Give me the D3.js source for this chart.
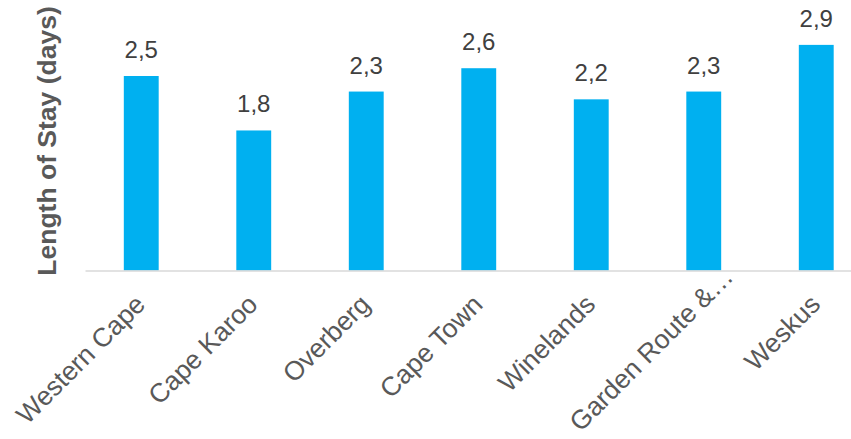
<!DOCTYPE html>
<html lang="en">
<head>
    <meta charset="UTF-8">
    <script src="https://cdn.jsdelivr.net/npm/d3@7/dist/d3.min.js"></script>
    <title>Length of Stay</title>
    <style>
        body { margin: 0; background: #fff; }
        svg { display: block; font-family: Arial, 'Liberation Sans', sans-serif; }
    </style>
</head>
<body>
    <svg id="mainsvg" width="851" height="439"></svg>
    <script>
        const regions = ['Western Cape', 'Cape Karoo', 'Overberg', 'Cape Town', 'Winelands', 'Garden Route &…', 'Weskus']
        const stay = [2.5, 1.8, 2.3, 2.6, 2.2, 2.3, 2.9]
        const yTitle = 'Length of Stay (days)'

        const data = regions.map((r, i) => ({ name: r, value: stay[i] }))

        const svg = d3.select('#mainsvg')
        const baseY = 270.5

        const xScale = d3.scaleBand()
            .domain(regions)
            .range([85, 872.5])
            .paddingInner(0.69)
            .paddingOuter(0.345)

        const yScale = d3.scaleLinear()
            .domain([0, 3.5])
            .range([baseY, baseY - 3.5 * 77.8])

        // bars
        svg.selectAll('rect.bar').data(data).join('rect')
            .attr('class', 'bar')
            .attr('x', d => xScale(d.name))
            .attr('width', xScale.bandwidth())
            .attr('y', d => yScale(d.value))
            .attr('height', d => yScale(0) - yScale(d.value))
            .attr('fill', '#00B0F0')

        // axis
        const xAxis = d3.axisBottom(xScale).tickSize(0).tickPadding(0)
        const ax = svg.append('g')
            .attr('transform', `translate(0,${baseY})`)
            .call(xAxis)
        ax.select('.domain').attr('stroke', '#d9d9d9').attr('stroke-width', 1.5)
        // the truncated label sits further up its diagonal, like in excel
        ax.selectAll('.tick text')
            .attr('font-size', 26.5)
            .attr('fill', '#595959')
            .attr('text-anchor', 'end')
            .attr('dy', 0)
            .attr('transform', d => d.endsWith('…')
                ? 'translate(31,8) rotate(-45)'
                : 'translate(5.5,35.5) rotate(-45)')

        // value labels
        svg.selectAll('text.val').data(data).join('text')
            .attr('class', 'val')
            .attr('x', d => xScale(d.name) + xScale.bandwidth() / 2)
            .attr('y', d => yScale(d.value) - 18)
            .attr('text-anchor', 'middle')
            .attr('font-size', 24)
            .attr('fill', '#404040')
            .text(d => d3.format('.1f')(d.value).replace('.', ','))

        // y title
        svg.append('text')
            .attr('transform', 'translate(56,141) rotate(-90)')
            .attr('text-anchor', 'middle')
            .attr('font-size', 26.5)
            .attr('font-weight', 'bold')
            .attr('fill', '#595959')
            .text(yTitle)
    </script>
</body>
</html>
